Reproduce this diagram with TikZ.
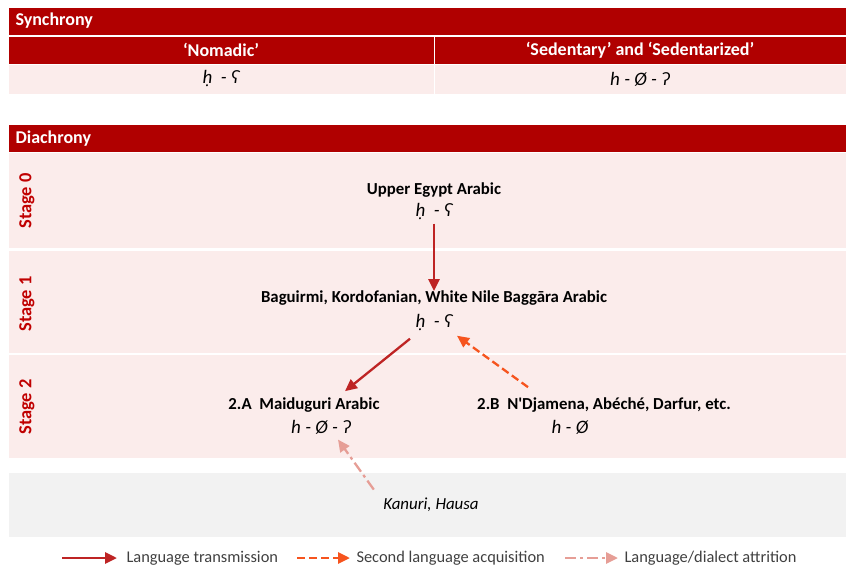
\documentclass[tikz,border=0pt]{standalone}
\usepackage{fontspec}
\setmainfont{Carlito}
\newfontfamily\nomapfont{Carlito}
\usepackage{tikz}
\usetikzlibrary{arrows.meta}

\definecolor{hdred}{RGB}{176,0,0}
\definecolor{bandpink}{RGB}{251,236,235}
\definecolor{bandgray}{RGB}{242,242,242}
\definecolor{stagered}{RGB}{192,0,0}
\definecolor{transred}{RGB}{190,36,36}
\definecolor{acqorange}{RGB}{246,84,30}
\definecolor{attrpink}{RGB}{230,158,150}
\definecolor{legendgray}{RGB}{64,64,64}

\begin{document}
\begin{tikzpicture}[x=1pt,y=-1pt,
    header/.style={white, font=\fontsize{18}{21}\selectfont\bfseries, anchor=west},
    colhead/.style={white, font=\fontsize{18}{21}\selectfont\bfseries},
    lang/.style={font=\fontsize{16.8}{20}\selectfont\bfseries},
    ipa/.style={font=\fontsize{19}{22}\selectfont\itshape},
    stagelbl/.style={stagered, font=\fontsize{18.4}{21}\selectfont\bfseries, rotate=90},
    legendtext/.style={legendgray, font=\fontsize{16.4}{19}\selectfont, anchor=west},
    transmission/.style={transred, line width=2.3pt, -{Triangle[length=12pt,width=11pt]}},
    acquisition/.style={acqorange, line width=2.3pt, dash pattern=on 8pt off 4pt, -{Triangle[length=12pt,width=11pt]}},
    attrition/.style={attrpink, line width=2.3pt, dash pattern=on 11pt off 4pt on 3pt off 4pt, -{Triangle[length=12pt,width=11pt]}}]
    \useasboundingbox (0,0) rectangle (846,570);
    \fill[hdred] (9,8) rectangle (846,35);
    \fill[hdred] (9,37) rectangle (846,64);
    \fill[bandpink] (9,65) rectangle (846,94);
    \draw[white, line width=1pt] (434,37) -- (434,94);
    \fill[hdred] (9,125) rectangle (846,152);
    \fill[bandpink] (9,153) rectangle (846,248);
    \fill[bandpink] (9,251) rectangle (846,353);
    \fill[bandpink] (9,355) rectangle (846,458);
    \fill[bandgray] (9,473) rectangle (846,537);

    \node[header] (synch) at (12,21) {Synchrony};
    \node[colhead] (nomadic) at (221,50) {‘Nomadic’};
    \node[colhead] (sedentary) at (640,50) {‘Sedentary’ and ‘Sedentarized’};
    \node[ipa] (nomadicipa) at (221,79) {ḥ\ \ - ʕ};
    \node[ipa] (sedentaryipa) at (640,79) {h - Ø - ʔ};

    \node[header] (diach) at (12,139) {Diachrony};
    \node[stagelbl] (stage0) at (27,201) {Stage 0};
    \node[stagelbl] (stage1) at (27,304) {Stage 1};
    \node[stagelbl] (stage2) at (27,407) {Stage 2};

    \node[lang] (egypt) at (434,190) {Upper Egypt Arabic};
    \node[ipa] (egyptipa) at (434,212) {ḥ\ \ - ʕ};
    \node[lang] (baggara) at (434,298) {Baguirmi, Kordofanian, White Nile Baggāra Arabic};
    \node[ipa] (baggaraipa) at (434,323) {ḥ\ \ - ʕ};
    \node[lang] (maiduguri) at (304,405) {2.A\ \ Maiduguri Arabic};
    \node[ipa] (maiduguriipa) at (321,427) {h - Ø - ʔ};
    \node[lang] (ndjamena) at (604,405) {2.B\ \ N{\nomapfont '}Djamena, Abéché, Darfur, etc.};
    \node[ipa] (ndjamenaipa) at (570,427) {h - Ø};
    \node[ipa, font=\fontsize{16.9}{20}\selectfont\itshape] (kanuri) at (431,505) {Kanuri, Hausa};

    \draw[transmission] (egyptipa.south) -- ([yshift=-4pt]baggara.north);
    \draw[transmission] ([shift={(-24,4)}]baggaraipa.south) -- ([shift={(41,-3)}]maiduguri.north);
    \draw[acquisition] ([shift={(-76,-7)}]ndjamena.north) -- ([shift={(23,1)}]baggaraipa.south);
    \draw[attrition] ([shift={(-6,-5)}]kanuri.north west) -- ([shift={(17,2)}]maiduguriipa.south);

    \coordinate (transA) at (62,558);
    \coordinate (transB) at (117,558);
    \coordinate (acqA) at (297,558);
    \coordinate (acqB) at (350,558);
    \coordinate (attrA) at (565,558);
    \coordinate (attrB) at (618,558);
    \draw[transmission, line width=2.8pt] (transA) -- (transB);
    \draw[acquisition, line width=2.8pt] (acqA) -- (acqB);
    \draw[attrition, line width=2.8pt] (attrA) -- (attrB);
    \node[legendtext] (translbl) at (123,558) {Language transmission};
    \node[legendtext] (acqlbl) at (353,558) {Second language acquisition};
    \node[legendtext] (attrlbl) at (621,558) {Language/dialect attrition};
\end{tikzpicture}
\end{document}
